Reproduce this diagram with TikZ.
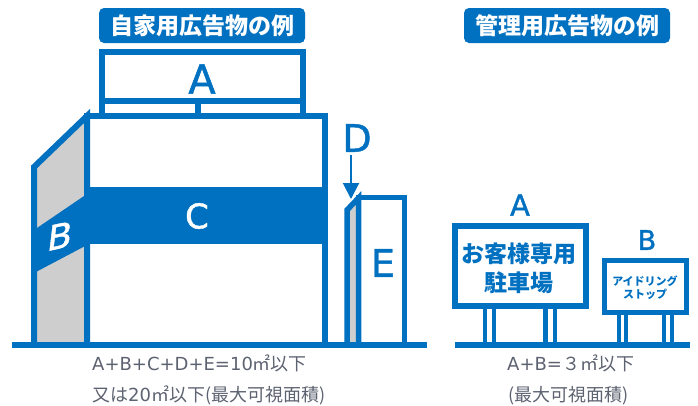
\documentclass[tikz,border=0pt]{standalone}
\usepackage{fontspec}
\usetikzlibrary{arrows.meta}
\newfontfamily\jpfont{Noto Sans CJK JP}
\newfontfamily\latfont{DejaVu Sans}
\newfontfamily\bigfont{DejaVu Sans}[FakeBold=1.2]
\definecolor{signblue}{RGB}{0,112,192}
\definecolor{wallgray}{RGB}{206,206,206}
\definecolor{notegray}{RGB}{92,98,112}
\tikzset{
  frame/.style={draw=signblue, line width=#1, line join=miter},
  frame/.default=6pt,
  titlebox/.style={fill=signblue, rounded corners=5pt, text=white, inner sep=0pt,
    minimum width=206pt, minimum height=35pt, font=\jpfont\bfseries\fontsize{23}{23}\selectfont},
  letter/.style={inner sep=0pt, text=signblue, font=\bigfont\fontsize{#1}{#1}\selectfont},
  whiteletter/.style={inner sep=0pt, text=white, font=\bigfont\fontsize{#1}{#1}\selectfont},
  signtext/.style={inner sep=0pt, text=signblue, font=\jpfont\bfseries\fontsize{#1}{#1}\selectfont},
  note/.style={inner sep=0pt, anchor=base west, text=notegray, font=\fontsize{18}{18}\selectfont},
}
\begin{document}
\begin{tikzpicture}[x=1pt, y=-1pt]
\useasboundingbox (0,0) rectangle (698,405);

% titles
\node[titlebox] (titleown) at (202,25.5) {自家用広告物の例};
\node[titlebox] (titlemgmt) at (567,25.5) {管理用広告物の例};

% rooftop sign A
\draw[frame] (102,52) rectangle (303,101);
\draw[frame] (102,101) -- (102,114) (198,101) -- (198,114) (303,101) -- (303,114);
\node[letter=40] (roofA) at (202,79) {A};

% side wall B
\filldraw[frame, fill=wallgray] (34,345) -- (34,167) -- (87,116) -- (87,345);
\fill[signblue] (34,230) -- (87,194) -- (87,245) -- (34,273) -- cycle;
\node[whiteletter=35, xslant=0.12, yslant=0.22] (wallB) at (60,236) {B};

% building front with band C
\draw[frame] (87,345) -- (87,116) -- (325,116) -- (325,345);
\fill[signblue] (84,187) rectangle (328,244);
\node[whiteletter=34] (bandC) at (197,216) {C};

% pole sign D / E
\filldraw[frame=5.5pt, fill=wallgray] (347,345) -- (347,210) -- (358.5,198) -- (358.5,345);
\draw[frame=5.5pt] (358.5,345) -- (358.5,197.5) -- (404.5,197.5) -- (404.5,345);
\node[letter=38] (labD) at (357,138) {D};
\coordinate (dtip) at (351,199);
\draw[signblue, line width=2pt, -{Triangle[width=16pt,length=16pt]}] (labD.south -| dtip) ++(0,3) -- (dtip);
\node[letter=38] (labE) at (383,263) {E};

% ground lines
\draw[frame=5.5pt] (12,345) -- (427,345);
\draw[frame=5.5pt] (455,345) -- (690,345);

% parking sign A
\draw[frame=5.5pt] (455,226) rectangle (586,306);
\draw[frame=4.5pt] (485,306) -- (485,345) (494,306) -- (494,345)
                   (545.5,306) -- (545.5,345) (555,306) -- (555,345);
\node[letter=29] (parkA) at (520,205) {A};
\node[signtext=23] (parkL1) at (519,254) {お客様専用};
\node[signtext=23] (parkL2) at (519,283) {駐車場};

% idling sign B
\draw[frame=5pt] (604.5,260.5) rectangle (686.5,312.5);
\draw[frame=4pt] (619,312.5) -- (619,345) (626,312.5) -- (626,345)
                 (664,312.5) -- (664,345) (672,312.5) -- (672,345);
\node[letter=27] (idleB) at (647,240) {B};
\node[signtext=11] (idleL1) at (645,281) {アイドリング};
\node[signtext=11] (idleL2) at (645,294) {ストップ};

% area notes
\node[note] (noteL1) at (92,370) {\latfont A+B+C+D+E=10\jpfont ㎡以下};
\node[note] (noteL2) at (92,401) {\jpfont 又は\latfont 20\jpfont ㎡以下(最大可視面積)};
\node[note] (noteR1) at (507,370) {\latfont A+B=\jpfont ３㎡以下};
\node[note] (noteR2) at (508,401) {\jpfont (最大可視面積)};
\end{tikzpicture}
\end{document}
